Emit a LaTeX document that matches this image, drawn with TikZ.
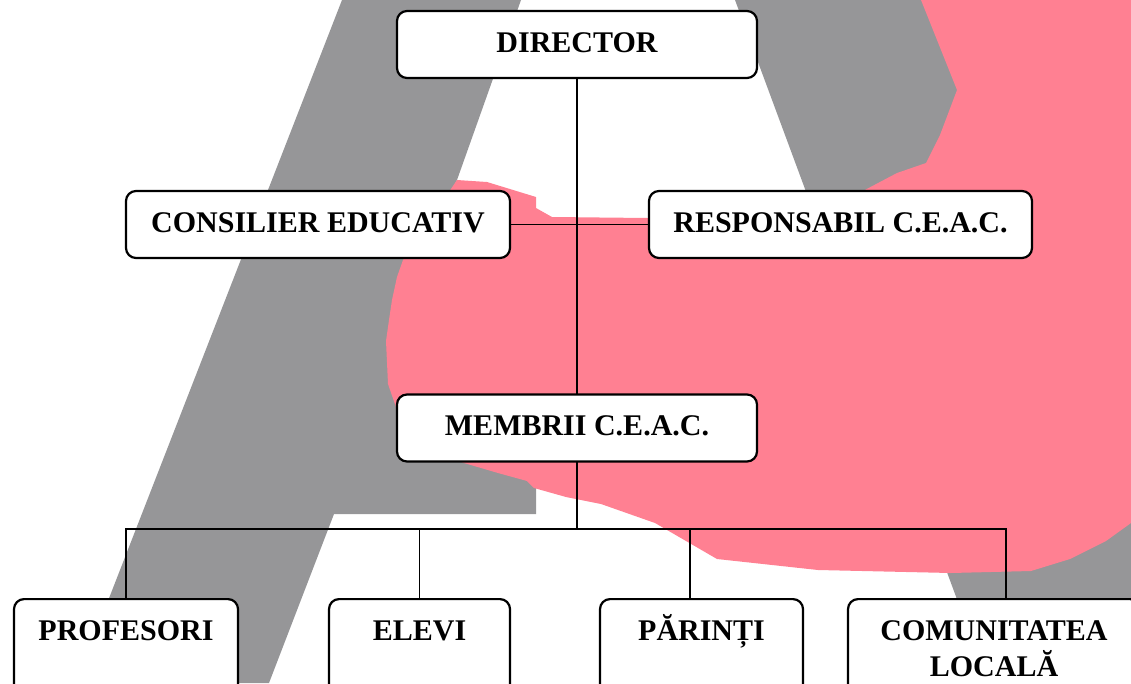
\documentclass[tikz,border=0pt]{standalone}
\usepackage{fontspec}
\setmainfont{Liberation Serif}
\definecolor{pinkbg}{RGB}{255,128,146}
\definecolor{graybg}{RGB}{150,150,152}
\begin{document}
\begin{tikzpicture}[x=1pt,y=-1pt,
  boxfont/.style={font=\fontsize{30}{34}\selectfont\bfseries},
  box/.style={boxfont, draw=black, line width=2.2pt, rounded corners=10pt, fill=white,
    inner xsep=0pt, inner ysep=0pt, text height=20pt, text depth=5pt, minimum height=67pt},
  lowbox/.style={boxfont, draw=black, line width=2.2pt, rounded corners=10pt, fill=white,
    inner xsep=0pt, inner ysep=0pt, text height=41pt, text depth=80pt, anchor=north},
  conn/.style={line width=1.7pt, line cap=rect}]
\useasboundingbox (0,0) rectangle (1131,683);
\clip (0,0) rectangle (1131,683);
% background letter
\fill[graybg] (342,0) -- (521,0) -- (457,180) -- (420,250) -- (395,320) -- (395,400)
  -- (470,455) -- (536,470) -- (536,514) -- (334,514) -- (269,683) -- (76,683) -- cycle;
\fill[graybg] (735,0) -- (940,0) -- (1131,200) -- (1131,683) -- (988,683) -- cycle;
\fill[pinkbg] (457,180) -- (487,182) -- (536,197) -- (536,208) -- (552,217) -- (648,218)
  -- (650,200) -- (861,192) -- (897,173) -- (926,163) -- (940,135) -- (957,90) -- (921,0)
  -- (1131,0) -- (1131,523) -- (1106,541) -- (1070,559) -- (1031,571) -- (951,573)
  -- (818,570) -- (717,559) -- (655,523) -- (601,504) -- (566,497) -- (534,488)
  -- (527,481) -- (498,473) -- (464,463) -- (430,450) -- (397,410) -- (388,384)
  -- (386,341) -- (389,320) -- (392,300) -- (397,277) -- (403,260) -- (430,220) -- cycle;
% boxes
\node[box, minimum width=360pt] (dir) at (577,44.5) {DIRECTOR};
\node[box, minimum width=384pt] (ce) at (318,224.5) {CONSILIER EDUCATIV};
\node[box, minimum width=383pt] (rc) at (840.5,224.5) {RESPONSABIL C.E.A.C.};
\node[box, minimum width=360pt] (mem) at (577,428) {MEMBRII C.E.A.C.};
\node[lowbox, minimum width=224pt] (prof) at (126,598) {PROFESORI};
\node[lowbox, minimum width=181pt] (elev) at (419.5,598) {ELEVI};
\node[lowbox, minimum width=203pt] (par) at (701.5,598) {PĂRINȚI};
\node[lowbox, minimum width=292pt] (com) at (994,598)
  {\begin{tabular}[t]{@{}c@{}}COMUNITATEA\\LOCALĂ\end{tabular}};
% connectors
\coordinate (bl) at (126,529);
\coordinate (br) at (1006,529);
\coordinate (bm) at (577,529);
\coordinate (bp) at (690,529);
\draw[conn] (dir) -- (mem);
\draw[conn] (ce) -- (rc);
\draw[conn] (bl) -- (br);
\draw[conn] (mem) -- (bm);
\draw[conn] (bl) -- (prof.north);
\draw[conn] (elev.north |- bl) -- (elev.north);
\draw[conn] (bp) -- (bp |- par.north);
\draw[conn] (br) -- (br |- com.north);
\end{tikzpicture}
\end{document}
